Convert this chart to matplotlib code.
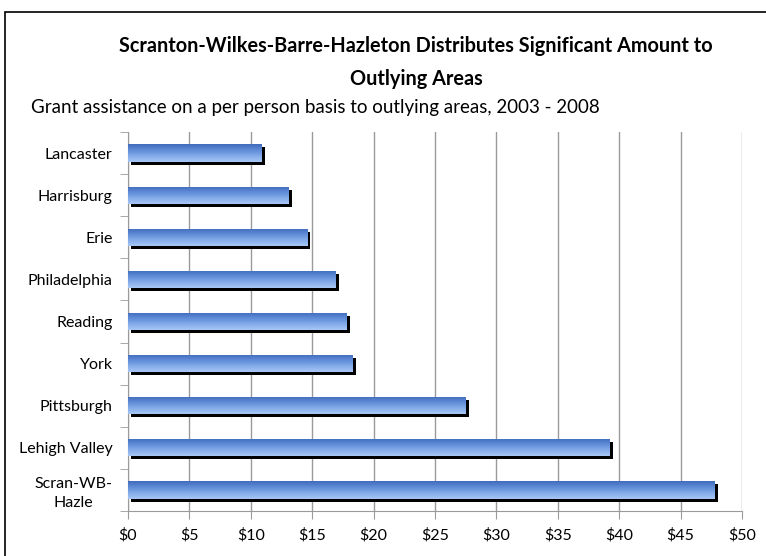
import numpy as np
import matplotlib.pyplot as plt
import matplotlib.transforms as mtransforms
from matplotlib.colors import LinearSegmentedColormap
from matplotlib.patches import Rectangle

cities = ['Lancaster', 'Harrisburg', 'Erie', 'Philadelphia', 'Reading',
          'York', 'Pittsburgh', 'Lehigh Valley', 'Scran-WB-\nHazle']
grant_per_person = [10.9, 13.1, 14.6, 16.9, 17.8, 18.3, 27.5, 39.25, 47.8]
x_ticks = [0, 5, 10, 15, 20, 25, 30, 35, 40, 45, 50]
x_tick_labels = ['$' + str(v) for v in x_ticks]

plt.rcParams['font.family'] = ['Lato', 'DejaVu Sans']

fig = plt.figure(figsize=(7.66, 5.56), dpi=100)
ax = fig.add_axes([128 / 766, 1 - 511 / 556, 614 / 766, 379 / 556])

# outer frame
fig.add_artist(Rectangle((5 / 766, -0.1), 1.2, 1.1 - 12 / 556, transform=fig.transFigure,
                         fill=False, edgecolor='black', linewidth=1.2))

ypos = np.arange(len(cities))
bar_h = 0.41

# black drop shadow, offset a few pixels right and down
shadow_tr = mtransforms.offset_copy(ax.transData, fig=fig, x=3, y=-3, units='dots')
ax.barh(ypos, grant_per_person, height=bar_h, color='black', transform=shadow_tr, zorder=2)

bars = ax.barh(ypos, grant_per_person, height=bar_h, color='none', zorder=3)

blue = LinearSegmentedColormap.from_list('blue', ['#a6c6f6', '#84ace9', '#5f8bd7', '#3f6bbb'])
grad = np.linspace(0, 1, 64).reshape(-1, 1)
for b in bars:
    x0, y0 = b.get_x(), b.get_y()
    w, h = b.get_width(), b.get_height()
    im = ax.imshow(grad, cmap=blue, aspect='auto', extent=(x0, x0 + w, y0, y0 + h),
                   origin='upper', zorder=3)
    im.set_clip_path(b)

ax.set_ylim(len(cities) - 0.5, -0.5)
ax.set_xlim(0, 50)

ax.set_xticks(x_ticks, x_tick_labels)
ax.set_yticks(ypos, cities, multialignment='center', linespacing=1.45)
ax.set_yticks(np.arange(len(cities) + 1) - 0.5, minor=True)
ax.tick_params(axis='y', which='major', length=0, pad=11, labelsize=11.5)
ax.tick_params(axis='y', which='minor', length=6, color='#9a9a9a')
ax.tick_params(axis='x', length=6, color='#9a9a9a', labelsize=11.5, pad=6)

ax.grid(axis='x', color='#9a9a9a', linewidth=1.0)
ax.set_axisbelow(True)
for s in ['top', 'right']:
    ax.spines[s].set_visible(False)
for s in ['left', 'bottom']:
    ax.spines[s].set_color('#9a9a9a')

fig.text(416 / 766, 1 - 52 / 556, 'Scranton-Wilkes-Barre-Hazleton Distributes Significant Amount to',
         ha='center', va='baseline', fontsize=14.3, fontweight='bold')
fig.text(416 / 766, 1 - 85 / 556, 'Outlying Areas',
         ha='center', va='baseline', fontsize=14.3, fontweight='bold')
fig.text(31 / 766, 1 - 113 / 556, 'Grant assistance on a per person basis to outlying areas, 2003 - 2008',
         ha='left', va='baseline', fontsize=13.5)

fig.savefig('out.png', dpi=100)
